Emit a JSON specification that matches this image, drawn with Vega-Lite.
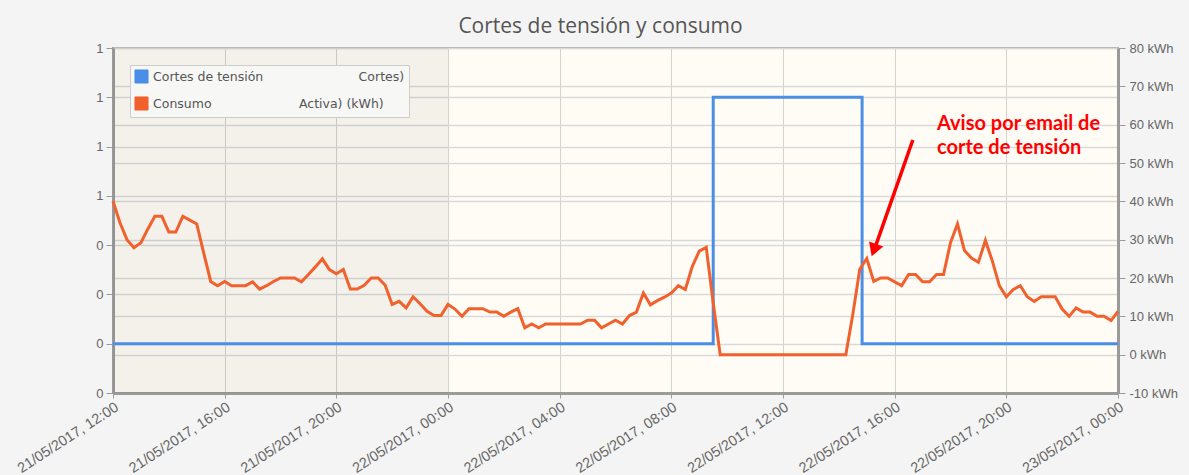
{
  "$schema": "https://vega.github.io/schema/vega-lite/v6.json",
  "width": 1005,
  "height": 345,
  "autosize": {"type": "none"},
  "padding": {"left": 113, "top": 48, "right": 71, "bottom": 82},
  "background": "#f4f4f4",
  "title": {
    "text": "Cortes de tensión y consumo",
    "font": "Open Sans",
    "fontSize": 21,
    "fontWeight": "normal",
    "color": "#555555",
    "anchor": "middle",
    "baseline": "alphabetic",
    "offset": -12,
    "dx": -15
  },
  "config": {
    "view": {"fill": "#fffcf5", "stroke": "#a0a0a0", "strokeWidth": 2},
    "axis": {
      "labelFont": "Liberation Sans",
      "labelFontSize": 13,
      "labelColor": "#666666",
      "domainColor": "#9a9a9a",
      "domainWidth": 3,
      "tickColor": "#9a9a9a",
      "tickSize": 6,
      "gridColor": "#d9d9d9",
      "gridWidth": 1.5,
      "title": null
    }
  },
  "datasets": {
    "fondo": [{"inicio": "2017-05-21T12:00", "fin": "2017-05-22T00:00"}],
    "cortes": [
      {"t": "2017-05-21T12:00", "estado": 0},
      {"t": "2017-05-22T09:30", "estado": 1},
      {"t": "2017-05-22T14:50", "estado": 0},
      {"t": "2017-05-23T00:00", "estado": 0}
    ],
    "consumo": [
      {"t": "2017-05-21T12:00", "kwh": 40.0},
      {"t": "2017-05-21T12:15", "kwh": 34.4},
      {"t": "2017-05-21T12:30", "kwh": 30.0},
      {"t": "2017-05-21T12:45", "kwh": 27.9},
      {"t": "2017-05-21T13:00", "kwh": 29.2},
      {"t": "2017-05-21T13:15", "kwh": 32.8},
      {"t": "2017-05-21T13:30", "kwh": 36.1},
      {"t": "2017-05-21T13:45", "kwh": 36.1},
      {"t": "2017-05-21T14:00", "kwh": 32.0},
      {"t": "2017-05-21T14:15", "kwh": 32.0},
      {"t": "2017-05-21T14:30", "kwh": 36.1},
      {"t": "2017-05-21T14:45", "kwh": 35.1},
      {"t": "2017-05-21T15:00", "kwh": 34.1},
      {"t": "2017-05-21T15:15", "kwh": 26.5},
      {"t": "2017-05-21T15:30", "kwh": 19.1},
      {"t": "2017-05-21T15:45", "kwh": 18.0},
      {"t": "2017-05-21T16:00", "kwh": 19.1},
      {"t": "2017-05-21T16:15", "kwh": 18.0},
      {"t": "2017-05-21T16:30", "kwh": 18.0},
      {"t": "2017-05-21T16:45", "kwh": 18.0},
      {"t": "2017-05-21T17:00", "kwh": 19.0},
      {"t": "2017-05-21T17:15", "kwh": 17.1},
      {"t": "2017-05-21T17:30", "kwh": 18.0},
      {"t": "2017-05-21T17:45", "kwh": 19.1},
      {"t": "2017-05-21T18:00", "kwh": 20.0},
      {"t": "2017-05-21T18:15", "kwh": 20.0},
      {"t": "2017-05-21T18:30", "kwh": 20.0},
      {"t": "2017-05-21T18:45", "kwh": 19.0},
      {"t": "2017-05-21T19:00", "kwh": 20.9},
      {"t": "2017-05-21T19:15", "kwh": 22.9},
      {"t": "2017-05-21T19:30", "kwh": 25.0},
      {"t": "2017-05-21T19:45", "kwh": 22.2},
      {"t": "2017-05-21T20:00", "kwh": 21.1},
      {"t": "2017-05-21T20:15", "kwh": 22.2},
      {"t": "2017-05-21T20:30", "kwh": 17.1},
      {"t": "2017-05-21T20:45", "kwh": 17.1},
      {"t": "2017-05-21T21:00", "kwh": 18.1},
      {"t": "2017-05-21T21:15", "kwh": 20.0},
      {"t": "2017-05-21T21:30", "kwh": 20.0},
      {"t": "2017-05-21T21:45", "kwh": 18.1},
      {"t": "2017-05-21T22:00", "kwh": 13.1},
      {"t": "2017-05-21T22:15", "kwh": 13.9},
      {"t": "2017-05-21T22:30", "kwh": 12.2},
      {"t": "2017-05-21T22:45", "kwh": 15.1},
      {"t": "2017-05-21T23:00", "kwh": 13.3},
      {"t": "2017-05-21T23:15", "kwh": 11.3},
      {"t": "2017-05-21T23:30", "kwh": 10.2},
      {"t": "2017-05-21T23:45", "kwh": 10.2},
      {"t": "2017-05-22T00:00", "kwh": 13.1},
      {"t": "2017-05-22T00:15", "kwh": 11.9},
      {"t": "2017-05-22T00:30", "kwh": 10.0},
      {"t": "2017-05-22T00:45", "kwh": 12.0},
      {"t": "2017-05-22T01:00", "kwh": 12.0},
      {"t": "2017-05-22T01:15", "kwh": 12.0},
      {"t": "2017-05-22T01:30", "kwh": 11.1},
      {"t": "2017-05-22T01:45", "kwh": 11.1},
      {"t": "2017-05-22T02:00", "kwh": 10.0},
      {"t": "2017-05-22T02:15", "kwh": 11.1},
      {"t": "2017-05-22T02:30", "kwh": 12.0},
      {"t": "2017-05-22T02:45", "kwh": 7.0},
      {"t": "2017-05-22T03:00", "kwh": 8.0},
      {"t": "2017-05-22T03:15", "kwh": 7.0},
      {"t": "2017-05-22T03:30", "kwh": 8.0},
      {"t": "2017-05-22T03:45", "kwh": 8.0},
      {"t": "2017-05-22T04:00", "kwh": 8.0},
      {"t": "2017-05-22T04:15", "kwh": 8.0},
      {"t": "2017-05-22T04:30", "kwh": 8.0},
      {"t": "2017-05-22T04:45", "kwh": 8.0},
      {"t": "2017-05-22T05:00", "kwh": 9.0},
      {"t": "2017-05-22T05:15", "kwh": 9.0},
      {"t": "2017-05-22T05:30", "kwh": 7.0},
      {"t": "2017-05-22T05:45", "kwh": 8.0},
      {"t": "2017-05-22T06:00", "kwh": 9.0},
      {"t": "2017-05-22T06:15", "kwh": 8.0},
      {"t": "2017-05-22T06:30", "kwh": 10.2},
      {"t": "2017-05-22T06:45", "kwh": 11.1},
      {"t": "2017-05-22T07:00", "kwh": 16.1},
      {"t": "2017-05-22T07:15", "kwh": 13.0},
      {"t": "2017-05-22T07:30", "kwh": 14.1},
      {"t": "2017-05-22T07:45", "kwh": 15.0},
      {"t": "2017-05-22T08:00", "kwh": 16.1},
      {"t": "2017-05-22T08:15", "kwh": 18.0},
      {"t": "2017-05-22T08:30", "kwh": 17.0},
      {"t": "2017-05-22T08:45", "kwh": 23.0},
      {"t": "2017-05-22T09:00", "kwh": 27.0},
      {"t": "2017-05-22T09:15", "kwh": 28.0},
      {"t": "2017-05-22T09:30", "kwh": 13.5},
      {"t": "2017-05-22T09:45", "kwh": 0},
      {"t": "2017-05-22T10:00", "kwh": 0},
      {"t": "2017-05-22T10:15", "kwh": 0},
      {"t": "2017-05-22T10:30", "kwh": 0},
      {"t": "2017-05-22T10:45", "kwh": 0},
      {"t": "2017-05-22T11:00", "kwh": 0},
      {"t": "2017-05-22T11:15", "kwh": 0},
      {"t": "2017-05-22T11:30", "kwh": 0},
      {"t": "2017-05-22T11:45", "kwh": 0},
      {"t": "2017-05-22T12:00", "kwh": 0},
      {"t": "2017-05-22T12:15", "kwh": 0},
      {"t": "2017-05-22T12:30", "kwh": 0},
      {"t": "2017-05-22T12:45", "kwh": 0},
      {"t": "2017-05-22T13:00", "kwh": 0},
      {"t": "2017-05-22T13:15", "kwh": 0},
      {"t": "2017-05-22T13:30", "kwh": 0},
      {"t": "2017-05-22T13:45", "kwh": 0},
      {"t": "2017-05-22T14:00", "kwh": 0},
      {"t": "2017-05-22T14:15", "kwh": 0},
      {"t": "2017-05-22T14:30", "kwh": 10.5},
      {"t": "2017-05-22T14:45", "kwh": 22.3},
      {"t": "2017-05-22T15:00", "kwh": 25.1},
      {"t": "2017-05-22T15:15", "kwh": 19.1},
      {"t": "2017-05-22T15:30", "kwh": 20.0},
      {"t": "2017-05-22T15:45", "kwh": 20.0},
      {"t": "2017-05-22T16:00", "kwh": 19.0},
      {"t": "2017-05-22T16:15", "kwh": 18.0},
      {"t": "2017-05-22T16:30", "kwh": 20.9},
      {"t": "2017-05-22T16:45", "kwh": 20.9},
      {"t": "2017-05-22T17:00", "kwh": 19.0},
      {"t": "2017-05-22T17:15", "kwh": 19.0},
      {"t": "2017-05-22T17:30", "kwh": 20.9},
      {"t": "2017-05-22T17:45", "kwh": 20.9},
      {"t": "2017-05-22T18:00", "kwh": 29.2},
      {"t": "2017-05-22T18:15", "kwh": 34.1},
      {"t": "2017-05-22T18:30", "kwh": 27.2},
      {"t": "2017-05-22T18:45", "kwh": 25.2},
      {"t": "2017-05-22T19:00", "kwh": 24.1},
      {"t": "2017-05-22T19:15", "kwh": 29.8},
      {"t": "2017-05-22T19:30", "kwh": 24.4},
      {"t": "2017-05-22T19:45", "kwh": 18.0},
      {"t": "2017-05-22T20:00", "kwh": 15.1},
      {"t": "2017-05-22T20:15", "kwh": 17.0},
      {"t": "2017-05-22T20:30", "kwh": 18.0},
      {"t": "2017-05-22T20:45", "kwh": 15.1},
      {"t": "2017-05-22T21:00", "kwh": 13.9},
      {"t": "2017-05-22T21:15", "kwh": 15.1},
      {"t": "2017-05-22T21:30", "kwh": 15.1},
      {"t": "2017-05-22T21:45", "kwh": 15.1},
      {"t": "2017-05-22T22:00", "kwh": 11.9},
      {"t": "2017-05-22T22:15", "kwh": 10.0},
      {"t": "2017-05-22T22:30", "kwh": 12.2},
      {"t": "2017-05-22T22:45", "kwh": 11.1},
      {"t": "2017-05-22T23:00", "kwh": 11.1},
      {"t": "2017-05-22T23:15", "kwh": 10.0},
      {"t": "2017-05-22T23:30", "kwh": 10.0},
      {"t": "2017-05-22T23:45", "kwh": 8.9},
      {"t": "2017-05-23T00:00", "kwh": 11.3}
    ],
    "flecha": [{"t1": "2017-05-22T16:39", "k1": 56.0, "t2": "2017-05-22T15:18", "k2": 28.0}],
    "punta": [{"t": "2017-05-22T15:17", "k": 27.8}],
    "nota": [{"t": "2017-05-22T17:31", "k": 58.5, "texto": "Aviso por email de\ncorte de tensión"}]
  },
  "layer": [
    {
      "data": {"name": "fondo"},
      "mark": {"type": "rect", "color": "#000000", "opacity": 0.045},
      "encoding": {
        "x": {"field": "inicio", "type": "temporal",
              "scale": {"domain": [{"year": 2017, "month": 5, "date": 21, "hours": 12}, {"year": 2017, "month": 5, "date": 23, "hours": 0}]},
              "axis": {
                "values": [
                  {"year": 2017, "month": 5, "date": 21, "hours": 12},
                  {"year": 2017, "month": 5, "date": 21, "hours": 16},
                  {"year": 2017, "month": 5, "date": 21, "hours": 20},
                  {"year": 2017, "month": 5, "date": 22, "hours": 0},
                  {"year": 2017, "month": 5, "date": 22, "hours": 4},
                  {"year": 2017, "month": 5, "date": 22, "hours": 8},
                  {"year": 2017, "month": 5, "date": 22, "hours": 12},
                  {"year": 2017, "month": 5, "date": 22, "hours": 16},
                  {"year": 2017, "month": 5, "date": 22, "hours": 20},
                  {"year": 2017, "month": 5, "date": 23, "hours": 0}
                ],
                "format": "%d/%m/%Y, %H:%M",
                "labelAngle": -33,
                "labelAlign": "right",
                "labelBaseline": "top",
                "labelPadding": 2,
                "labelFontSize": 14.5,
                "grid": true,
                "gridWidth": 1,
                "gridColor": "#d2d2d2",
                "tickSize": 5
              }},
        "x2": {"field": "fin"}
      }
    },
    {
      "data": {"name": "cortes"},
      "mark": {"type": "line", "interpolate": "step-after", "strokeWidth": 3},
      "encoding": {
        "x": {"field": "t", "type": "temporal"},
        "y": {"field": "estado", "type": "quantitative",
              "scale": {"domain": [-0.2, 1.2], "nice": false, "zero": false},
              "axis": {"orient": "left", "values": [-0.2, 0, 0.2, 0.4, 0.6, 0.8, 1.0, 1.2],
                       "labelExpr": "datum.value > 0.5 ? '1' : '0'", "grid": true, "tickSize": 7, "labelPadding": 3}},
        "color": {"datum": "Cortes de tensión\u00a0\u00a0\u00a0\u00a0\u00a0\u00a0\u00a0\u00a0\u00a0\u00a0\u00a0\u00a0\u00a0\u00a0\u00a0\u00a0\u00a0\u00a0\u00a0\u00a0\u00a0\u00a0\u00a0\u00a0Cortes)",
                  "scale": {"domain": ["Cortes de tensión\u00a0\u00a0\u00a0\u00a0\u00a0\u00a0\u00a0\u00a0\u00a0\u00a0\u00a0\u00a0\u00a0\u00a0\u00a0\u00a0\u00a0\u00a0\u00a0\u00a0\u00a0\u00a0\u00a0\u00a0Cortes)", "Consumo\u00a0\u00a0\u00a0\u00a0\u00a0\u00a0\u00a0\u00a0\u00a0\u00a0\u00a0\u00a0\u00a0\u00a0\u00a0\u00a0\u00a0\u00a0\u00a0\u00a0\u00a0\u00a0Activa) (kWh)"],
                            "range": ["#4a8ee6", "#f0612d"]},
                  "legend": {
                    "orient": "none", "legendX": 17, "legendY": 17, "title": null,
                    "symbolType": "square", "symbolSize": 170,
                    "labelFont": "DejaVu Sans", "labelFontSize": 12.5, "labelColor": "#555555",
                    "labelOffset": 4, "labelLimit": 500,
                    "fillColor": "#f7f7f5", "strokeColor": "#cccccc", "padding": 4, "rowPadding": 8,
                    "encode": {"symbols": {"update": {"fill": {"scale": "color", "field": "value"}, "stroke": {"value": "#aaaaaa"}, "strokeWidth": {"value": 1}, "opacity": {"value": 1}}}}
                  }}
      }
    },
    {
      "data": {"name": "consumo"},
      "mark": {"type": "line", "strokeWidth": 3},
      "encoding": {
        "x": {"field": "t", "type": "temporal"},
        "y": {"field": "kwh", "type": "quantitative",
              "scale": {"domain": [-10, 80], "nice": false, "zero": false},
              "axis": {"orient": "right", "values": [-10, 0, 10, 20, 30, 40, 50, 60, 70, 80],
                       "labelExpr": "datum.value + ' kWh'", "grid": true, "tickSize": 7, "labelPadding": 4}},
        "color": {"datum": "Consumo\u00a0\u00a0\u00a0\u00a0\u00a0\u00a0\u00a0\u00a0\u00a0\u00a0\u00a0\u00a0\u00a0\u00a0\u00a0\u00a0\u00a0\u00a0\u00a0\u00a0\u00a0\u00a0Activa) (kWh)"}
      }
    },
    {
      "data": {"name": "flecha"},
      "mark": {"type": "rule", "color": "#ff0000", "strokeWidth": 3.5},
      "encoding": {
        "x": {"field": "t1", "type": "temporal"},
        "y": {"field": "k1", "type": "quantitative", "scale": {"domain": [-10, 80], "nice": false, "zero": false}, "axis": null},
        "x2": {"field": "t2"},
        "y2": {"field": "k2"}
      }
    },
    {
      "data": {"name": "punta"},
      "mark": {"type": "point", "shape": "triangle", "filled": true, "color": "#ff0000", "opacity": 1, "size": 230, "angle": 200},
      "encoding": {
        "x": {"field": "t", "type": "temporal"},
        "y": {"field": "k", "type": "quantitative", "scale": {"domain": [-10, 80], "nice": false, "zero": false}, "axis": null}
      }
    },
    {
      "data": {"name": "nota"},
      "mark": {"type": "text", "align": "left", "baseline": "alphabetic", "lineBreak": "\n", "lineHeight": 24,
               "font": "Lato", "fontWeight": "bold", "fontSize": 20, "color": "#ff0000"},
      "encoding": {
        "x": {"field": "t", "type": "temporal"},
        "y": {"field": "k", "type": "quantitative", "scale": {"domain": [-10, 80], "nice": false, "zero": false}, "axis": null},
        "text": {"field": "texto"}
      }
    }
  ],
  "resolve": {"scale": {"y": "independent"}}
}
